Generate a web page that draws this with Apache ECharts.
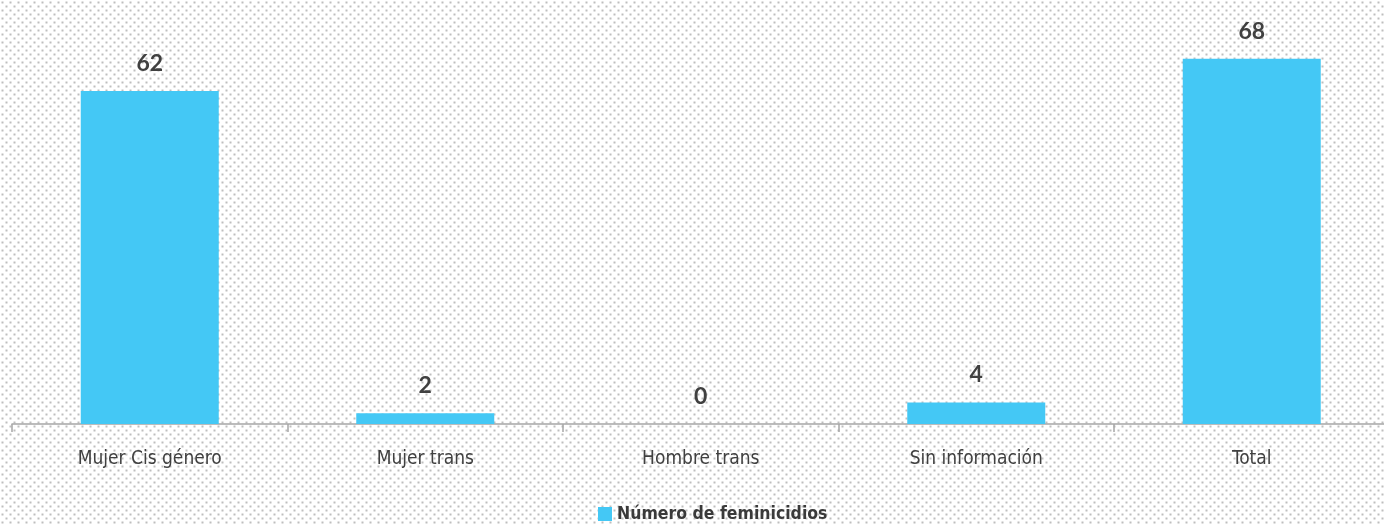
<!DOCTYPE html>
<html>
<head>
<meta charset="utf-8">
<script src="https://cdn.jsdelivr.net/npm/echarts@6/dist/echarts.min.js"></script>
<style>
  html, body { margin: 0; padding: 0; background: #fff; }
  #chart { width: 1384px; height: 525px; }
</style>
</head>
<body>
<div id="chart"></div>
<script>
const categories = ['Mujer Cis género', 'Mujer trans', 'Hombre trans', 'Sin información', 'Total']
const values = [62, 2, 0, 4, 68]
const seriesName = 'Número de feminicidios'

const narrow = '"DejaVu Sans Condensed", "Liberation Sans Narrow", sans-serif'

// fondo punteado
const dots = document.createElement('canvas')
dots.width = 8
dots.height = 8
const dctx = dots.getContext('2d')
dctx.fillStyle = '#ffffff'
dctx.fillRect(0, 0, 8, 8)
dctx.fillStyle = '#bebebe'
dctx.fillRect(1.5, 1.5, 2, 2)
dctx.fillRect(5.5, 5.5, 2, 2)

const chart = echarts.init(document.getElementById('chart'))
const option = {
  backgroundColor: { image: dots, repeat: 'repeat' },
  animation: false,
  grid: { left: 12, right: -5.5, top: 48, bottom: 101, outerBoundsMode: 'none' },
  legend: {
    data: [seriesName],
    left: 593,
    top: 500,
    itemWidth: 14,
    itemHeight: 14,
    itemGap: 6,
    icon: 'rect',
    textStyle: {
      fontFamily: narrow,
      fontWeight: 'bold',
      fontSize: 17.5,
      color: '#3a3a3a'
    }
  },
  xAxis: {
    type: 'category',
    data: categories,
    axisLine: { lineStyle: { color: '#a6a6a6', width: 1.5 } },
    axisTick: { show: true, length: 8, lineStyle: { color: '#a6a6a6', width: 1.5 } },
    axisLabel: {
      margin: 26,
      fontFamily: narrow,
      fontSize: 19,
      color: '#404040'
    }
  },
  yAxis: {
    type: 'value',
    min: 0,
    max: 70,
    show: false
  },
  series: [{
    name: seriesName,
    type: 'bar',
    data: values,
    barWidth: 138,
    itemStyle: { color: '#44c8f5' },
    label: {
      show: true,
      position: 'top',
      distance: 16,
      fontFamily: 'Lato, sans-serif',
      fontWeight: 'bold',
      fontSize: 23,
      color: '#404040'
    }
  }]
}
chart.setOption(option)
</script>
</body>
</html>
